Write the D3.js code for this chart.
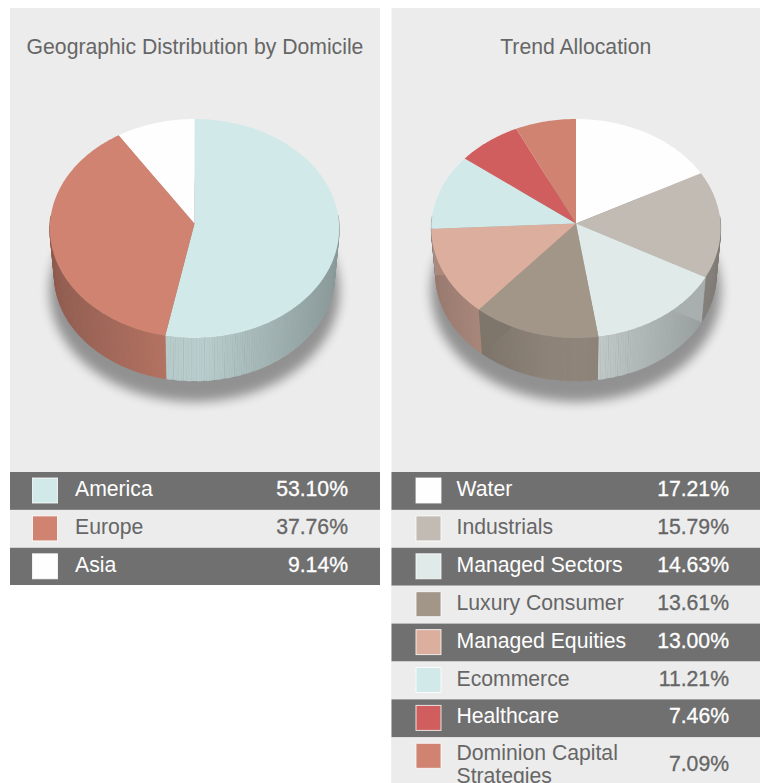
<!DOCTYPE html>
<html>
<head>
<meta charset="utf-8">
<script src="https://cdn.jsdelivr.net/npm/d3@7"></script>
<style>
    html, body { margin: 0; padding: 0; background: #fff; overflow: hidden; }
    text { font-family: "Liberation Sans", Arial, sans-serif; }
</style>
</head>
<body>
<div id="chart"></div>
<script>
// data
const geoNames = ["America", "Europe", "Asia"];
const geoValues = [53.10, 37.76, 9.14];
const geoColors = ["#d2e9e9", "#cf8370", "#fefefe"];

const trendNames = ["Water", "Industrials", "Managed Sectors", "Luxury Consumer", "Managed Equities", "Ecommerce", "Healthcare", "Dominion Capital Strategies"];
const trendValues = [17.21, 15.79, 14.63, 13.61, 13.00, 11.21, 7.46, 7.09];
const trendColors = ["#fefefe", "#c2bbb4", "#e0eae9", "#a29689", "#dcae9e", "#d2e9e9", "#d15e5e", "#cf8370"];

// inner walls that show through the rim on the right pie: [slice index, which edge]
const trendWalls = [[2, "startAngle"], [3, "endAngle"], [4, "endAngle"]];

const width = 763, height = 783;
const tableTop = 472, rowH = 37.9;
const fontSize = 21.2;

const svg = d3.select("#chart").append("svg")
    .attr("width", width)
    .attr("height", height);

const defs = svg.append("defs");
const blur = defs.append("filter").attr("id", "blur")
    .attr("x", "-20%").attr("y", "-20%").attr("width", "140%").attr("height", "140%");
blur.append("feGaussianBlur").attr("stdDeviation", 5.5);

function drawPanel(cfg) {
    const g = svg.append("g");

    g.append("rect")
        .attr("x", cfg.x).attr("y", 8)
        .attr("width", cfg.w).attr("height", cfg.bottom - 8)
        .attr("fill", "#ececec");

    g.append("text")
        .attr("x", cfg.x + cfg.w / 2).attr("y", 54)
        .attr("text-anchor", "middle")
        .attr("font-size", fontSize)
        .attr("fill", "#666")
        .text(cfg.title);

    drawPie(g, cfg);
    drawTable(g, cfg);
}

function drawPie(g, cfg) {
    const cx = cfg.cx;
    const pie = d3.pie().sort(null).value(d => d.value);
    const arcs = pie(cfg.names.map((n, i) => ({name: n, value: cfg.values[i], color: cfg.colors[i]})));

    // slight perspective, the far rim is a bit smaller
    const k = 0.0457;
    const project = (a, rx, ry, cy, off) => {
        const X = Math.sin(a), Y = Math.cos(a), w = 1 + k * Y;
        return [cx + rx * X / w, cy - (ry * Y + off) / w];
    };
    const topRim = a => project(a, 144.5, 109.5, 228.5, 5);
    const botRim = a => project(a, 140, 106, 275, 4.8);
    const topApex = [cx, 228.5 - 5];
    const botApex = [cx, 275 - 4.8];

    const line = d3.line();
    const stepsOf = (a0, a1, step) => {
        const n = Math.max(1, Math.ceil((a1 - a0) / step));
        return d3.range(n + 1).map(i => a0 + (a1 - a0) * i / n);
    };

    // side shading runs dark-light-dark across the cylinder
    const shade = d3.scaleLinear()
        .domain([cx - 144, cx - 30, cx + 10, cx + 144])
        .range([0.70, 0.87, 0.88, 0.66]);
    const shaded = (color, x) => {
        const c = d3.rgb(color), s = shade(x);
        return d3.rgb(c.r * s, c.g * s, c.b * s).formatHex();
    };

    // shadow
    g.append("ellipse")
        .attr("cx", cx).attr("cy", 291)
        .attr("rx", 145).attr("ry", 111)
        .attr("fill", "#000").attr("opacity", 0.38)
        .attr("filter", "url(#blur)");

    // outer wall, built from thin strips, front half only
    const side = g.append("g");
    arcs.forEach(d => {
        const steps = stepsOf(d.startAngle, d.endAngle, Math.PI / 180);
        d3.pairs(steps).forEach(([a0, a1], i) => {
            if (Math.cos((a0 + a1) / 2) > 0.08) return;
            const p = [topRim(a0), topRim(a1), botRim(a1), botRim(a0)];
            const mid = (p[0][0] + p[1][0]) / 2;
            const fill = shaded(d.data.color, mid);
            // seams are left open every few strips near the front, they read as streaks
            const seam = mid > cx - 30 && mid < cx + 60 && i % 4 < 2;
            side.append("path")
                .attr("d", line(p) + "Z")
                .attr("fill", fill)
                .attr("stroke", seam ? "none" : fill)
                .attr("stroke-width", 0.5);
        });
    });

    // inner walls
    (cfg.walls || []).forEach(([i, edge]) => {
        const d = arcs[i], a = d[edge];
        const p = [topRim(a), botRim(a), botApex, topApex];
        g.append("path")
            .attr("d", line(p) + "Z")
            .attr("fill", shaded(d.data.color, edge === "startAngle" ? cx + 90 : cx - 90));
    });

    // top face
    g.selectAll(".slice")
        .data(arcs)
        .join("path")
        .attr("class", "slice")
        .attr("fill", d => d.data.color)
        .attr("d", d => line([topApex].concat(stepsOf(d.startAngle, d.endAngle, Math.PI / 180).map(topRim))) + "Z");
}

function drawTable(g, cfg) {
    const y = d3.scaleBand()
        .domain(cfg.names)
        .range([tableTop, tableTop + rowH * cfg.names.length]);

    const rows = g.selectAll(".row")
        .data(cfg.names)
        .join("g")
        .attr("class", "row")
        .attr("transform", d => `translate(${cfg.x},${y(d)})`);

    rows.append("rect")
        .attr("width", cfg.w)
        .attr("height", (d, i) => i === cfg.names.length - 1 ? cfg.bottom - y(d) : y.bandwidth())
        .attr("fill", (d, i) => i % 2 === 0 ? "#707070" : "#ececec");

    rows.append("rect")
        .attr("x", cfg.swatchX).attr("y", 6)
        .attr("width", 25).attr("height", 25)
        .attr("fill", (d, i) => cfg.colors[i])
        .attr("stroke", "#fff").attr("stroke-opacity", 0.8);

    rows.append("text")
        .attr("x", cfg.labelX - cfg.x)
        .attr("y", 24)
        .attr("font-size", fontSize)
        .attr("fill", (d, i) => i % 2 === 0 ? "#fff" : "#666")
        .each(function(d) {
            // only the long name wraps
            const parts = d === "Dominion Capital Strategies" ? ["Dominion Capital", "Strategies"] : [d];
            d3.select(this).selectAll("tspan")
                .data(parts)
                .join("tspan")
                .attr("x", cfg.labelX - cfg.x)
                .attr("y", (p, j) => parts.length > 1 ? 22.5 + j * 23 : 24)
                .text(p => p);
        });

    rows.append("text")
        .attr("x", cfg.valueX - cfg.x)
        .attr("y", (d, i) => i === 7 ? 33.5 : 24)
        .attr("text-anchor", "end")
        .attr("font-size", fontSize)
        .attr("fill", (d, i) => i % 2 === 0 ? "#fff" : "#666")
        .attr("stroke", (d, i) => i % 2 === 0 ? "#fff" : "#666")
        .attr("stroke-width", 0.3)
        .text((d, i) => d3.format(".2f")(cfg.values[i]) + "%");
}

drawPanel({
    title: "Geographic Distribution by Domicile",
    names: geoNames, values: geoValues, colors: geoColors,
    x: 10, w: 370, cx: 194.5, bottom: 585,
    swatchX: 22.5, labelX: 75, valueX: 348
});

drawPanel({
    title: "Trend Allocation",
    names: trendNames, values: trendValues, colors: trendColors, walls: trendWalls,
    x: 391.5, w: 368.5, cx: 576, bottom: 783,
    swatchX: 24.5, labelX: 456.5, valueX: 729
});
</script>
</body>
</html>
